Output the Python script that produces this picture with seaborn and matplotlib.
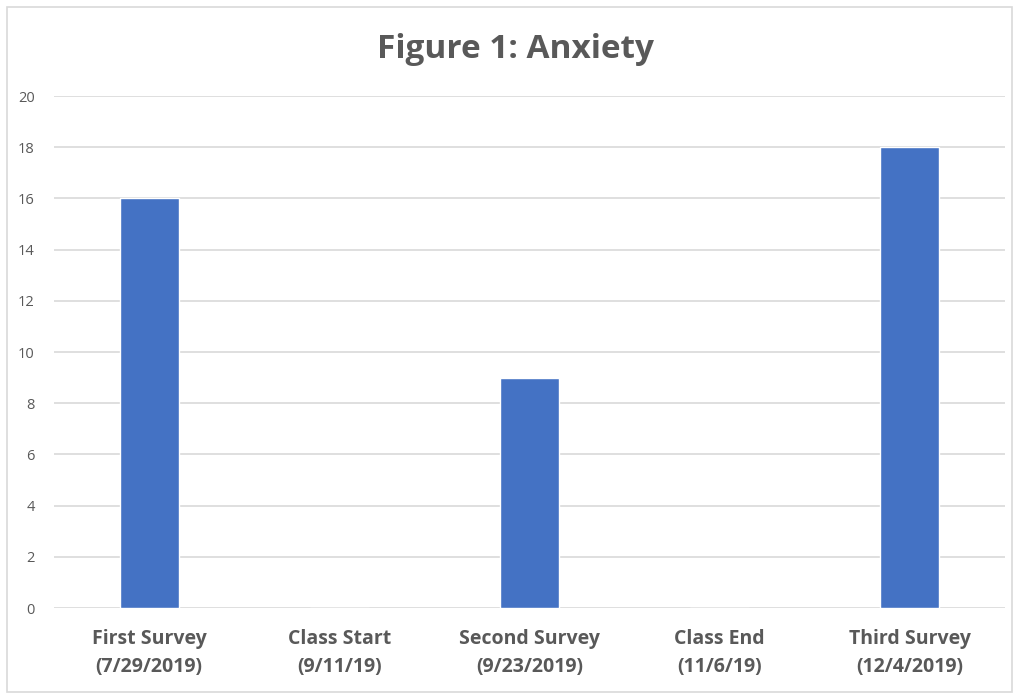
import matplotlib
matplotlib.use("Agg")
import matplotlib.pyplot as plt
import seaborn as sns
import pandas as pd

# chart data
categories = ["First Survey\n(7/29/2019)", "Class Start\n(9/11/19)", "Second Survey\n(9/23/2019)",
              "Class End\n(11/6/19)", "Third Survey\n(12/4/2019)"]
anxiety = [16, 0, 9, 0, 18]
y_ticks = [0, 2, 4, 6, 8, 10, 12, 14, 16, 18, 20]

sns.set_style("white")
plt.rcParams['font.family'] = ['Open Sans', 'DejaVu Sans']

df = pd.DataFrame({'event': categories, 'score': anxiety})

fig = plt.figure(figsize=(10.15, 6.94), dpi=100)
ax = fig.add_axes([54 / 1015, 86 / 694, 951 / 1015, 512 / 694])

sns.barplot(data=df, x='event', y='score', color='#4472C4', saturation=1, width=0.31, ax=ax, zorder=3)

ax.set_ylim(0, 20)
ax.set_xlim(-0.5, 4.5)
ax.set_yticks(y_ticks)
ax.yaxis.grid(True, color='#D9D9D9', linewidth=1.2, zorder=0)
ax.set_axisbelow(True)
for s in ['top', 'right', 'left', 'bottom']:
    ax.spines[s].set_visible(False)
ax.set_xlabel('')
ax.set_ylabel('')
ax.tick_params(axis='y', length=0, pad=14, labelsize=10.5, labelcolor='#595959')
ax.tick_params(axis='x', length=0, pad=15, labelsize=14, labelcolor='#595959')
for lbl in ax.get_xticklabels():
    lbl.set_fontweight('bold')
    lbl.set_linespacing(1.55)

fig.text(0.508, 0.929, 'Figure 1: Anxiety', ha='center', va='center', fontsize=24,
         fontweight='bold', color='#595959')

# outer chart border
fig.patches.append(plt.Rectangle((7 / 1015, 2 / 694), 1005 / 1015, 685 / 694, transform=fig.transFigure,
                                 fill=False, edgecolor='#D9D9D9', linewidth=1.2))

fig.savefig('out.png', dpi=100, facecolor='white')
